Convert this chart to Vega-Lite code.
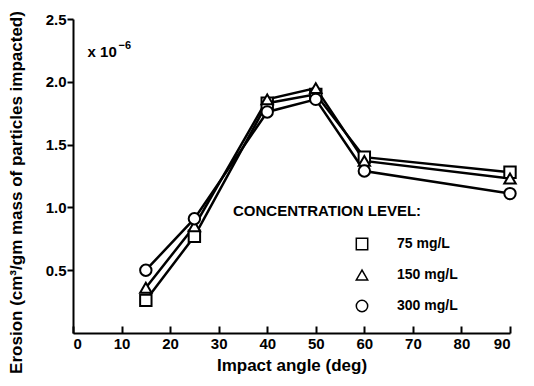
{
  "$schema": "https://vega.github.io/schema/vega-lite/v6.json",
  "width": 437,
  "height": 314,
  "autosize": "none",
  "padding": {"left": 73, "top": 19, "right": 24, "bottom": 53},
  "background": "white",
  "config": {
    "view": {"stroke": null},
    "font": "Liberation Sans",
    "axis": {
      "grid": false,
      "domainColor": "black",
      "domainWidth": 2,
      "tickColor": "black",
      "tickWidth": 2,
      "labelColor": "black",
      "labelFont": "Liberation Sans",
      "labelFontWeight": "bold",
      "labelFontSize": 15,
      "titleFont": "Liberation Sans",
      "titleFontWeight": "bold",
      "titleFontSize": 17,
      "titleColor": "black"
    }
  },
  "datasets": {
    "erosion": [
      {"angle": 15, "erosion": 0.26, "conc": "75 mg/L"},
      {"angle": 25, "erosion": 0.77, "conc": "75 mg/L"},
      {"angle": 40, "erosion": 1.83, "conc": "75 mg/L"},
      {"angle": 50, "erosion": 1.90, "conc": "75 mg/L"},
      {"angle": 60, "erosion": 1.40, "conc": "75 mg/L"},
      {"angle": 90, "erosion": 1.28, "conc": "75 mg/L"},
      {"angle": 15, "erosion": 0.36, "conc": "150 mg/L"},
      {"angle": 25, "erosion": 0.85, "conc": "150 mg/L"},
      {"angle": 40, "erosion": 1.86, "conc": "150 mg/L"},
      {"angle": 50, "erosion": 1.95, "conc": "150 mg/L"},
      {"angle": 60, "erosion": 1.37, "conc": "150 mg/L"},
      {"angle": 90, "erosion": 1.23, "conc": "150 mg/L"},
      {"angle": 15, "erosion": 0.50, "conc": "300 mg/L"},
      {"angle": 25, "erosion": 0.91, "conc": "300 mg/L"},
      {"angle": 40, "erosion": 1.76, "conc": "300 mg/L"},
      {"angle": 50, "erosion": 1.86, "conc": "300 mg/L"},
      {"angle": 60, "erosion": 1.29, "conc": "300 mg/L"},
      {"angle": 90, "erosion": 1.11, "conc": "300 mg/L"}
    ],
    "note": [{"angle": 3.0, "erosion": 2.24, "label": "x 10", "exp": "−6"}]
  },
  "layer": [
    {
      "data": {"name": "erosion"},
      "mark": {"type": "line", "color": "black", "strokeWidth": 2.5},
      "encoding": {
        "x": {
          "field": "angle", "type": "quantitative",
          "scale": {"domain": [0, 90], "nice": false, "zero": true},
          "axis": {"values": [0, 10, 20, 30, 40, 50, 60, 70, 80, 90], "tickSize": -7, "labelPadding": 10, "title": "Impact angle (deg)", "titlePadding": 6}
        },
        "y": {
          "field": "erosion", "type": "quantitative",
          "scale": {"domain": [0, 2.5], "nice": false},
          "axis": {"values": [0.5, 1.0, 1.5, 2.0, 2.5], "format": ".1f", "tickSize": 6, "labelPadding": 1, "title": "Erosion (cm³/gm mass of particles impacted)", "titlePadding": 20, "titleY": 173}
        },
        "detail": {"field": "conc"}
      }
    },
    {
      "data": {"name": "erosion"},
      "mark": {"type": "point", "filled": true, "color": "white", "fill": "white", "stroke": "black", "strokeWidth": 2, "size": 130, "opacity": 1},
      "encoding": {
        "x": {"field": "angle", "type": "quantitative"},
        "y": {"field": "erosion", "type": "quantitative"},
        "shape": {
          "field": "conc", "type": "nominal",
          "scale": {"domain": ["75 mg/L", "150 mg/L", "300 mg/L"], "range": ["square", "triangle-up", "circle"]},
          "legend": {
            "title": "CONCENTRATION LEVEL:",
            "orient": "none",
            "legendX": 160,
            "legendY": 185,
            "titleFont": "Liberation Sans",
            "titleFontSize": 15,
            "titleFontWeight": "bold",
            "titleColor": "black",
            "titlePadding": 18,
            "titleLimit": 400,
            "labelFont": "Liberation Sans",
            "labelFontSize": 14,
            "labelFontWeight": "bold",
            "labelColor": "black",
            "labelOffset": 28,
            "symbolOffset": 122,
            "symbolSize": 130,
            "rowPadding": 14,
            "encode": {
              "symbols": {
                "update": {
                  "stroke": {"value": "black"},
                  "strokeWidth": {"value": 2},
                  "fill": {"value": "white"},
                  "opacity": {"value": 1},
                  "fillOpacity": {"value": 1}
                }
              }
            }
          }
        }
      }
    },
    {
      "data": {"name": "note"},
      "mark": {"type": "text", "align": "left", "baseline": "middle", "font": "Liberation Sans", "fontWeight": "bold", "fontSize": 15, "color": "black"},
      "encoding": {
        "x": {"field": "angle", "type": "quantitative"},
        "y": {"field": "erosion", "type": "quantitative"},
        "text": {"field": "label"}
      }
    },
    {
      "data": {"name": "note"},
      "mark": {"type": "text", "align": "left", "baseline": "middle", "font": "Liberation Sans", "fontWeight": "bold", "fontSize": 11, "color": "black", "dx": 31, "dy": -6},
      "encoding": {
        "x": {"field": "angle", "type": "quantitative"},
        "y": {"field": "erosion", "type": "quantitative"},
        "text": {"field": "exp"}
      }
    }
  ]
}
